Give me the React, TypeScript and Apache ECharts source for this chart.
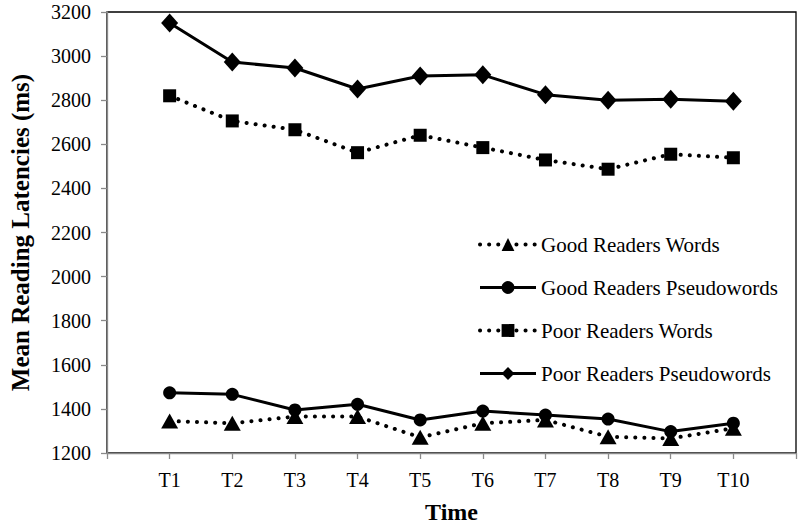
import React, { useEffect, useRef } from 'react';
import * as echarts from 'echarts';

const timePoints = ['T1', 'T2', 'T3', 'T4', 'T5', 'T6', 'T7', 'T8', 'T9', 'T10'];
const goodReadersWords = [1345, 1335, 1365, 1365, 1271, 1335, 1350, 1274, 1266, 1312];
const goodReadersPseudowords = [1473, 1466, 1395, 1421, 1350, 1390, 1372, 1354, 1297, 1335];
const poorReadersWords = [2820, 2706, 2666, 2562, 2641, 2585, 2529, 2487, 2555, 2539];
const poorReadersPseudowords = [3150, 2973, 2946, 2851, 2910, 2915, 2825, 2800, 2804, 2795];
const seriesNames = [
  'Good Readers Words',
  'Good Readers Pseudowords',
  'Poor Readers Words',
  'Poor Readers Pseudowords',
];

const FONT = "'Liberation Serif', 'Times New Roman', serif";
const AXIS_GRAY = '#8a8a8a';

export default function App() {
  const ref = useRef<HTMLDivElement>(null);
  useEffect(() => {
    if (!ref.current) return;
    const chart = echarts.init(ref.current, undefined, { renderer: 'svg' });
    const axisData = ['', ...timePoints, ''];
    const pad = (arr: number[]) => [null, ...arr];
    const dotted = { color: '#000', width: 4, type: [0.1, 9] as any, cap: 'round' as any };
    const solid = { color: '#000', width: 3, type: 'solid' as any };
    const styles = [dotted, solid, dotted, solid];
    const mk = (name: string, data: number[], symbol: string, size: any, lineStyle: any) => ({
      name,
      type: 'line',
      data: pad(data),
      symbol,
      symbolSize: size,
      showSymbol: true,
      lineStyle,
      itemStyle: { color: '#000', borderWidth: 0 },
      emphasis: { disabled: true },
      z: 3,
    });
    chart.setOption({
      animation: false,
      backgroundColor: '#fff',
      textStyle: { fontFamily: FONT, color: '#000' },
      grid: {
        left: 104,
        right: 2,
        top: 12,
        bottom: 76,
        show: true,
        borderColor: '#000',
        borderWidth: 1.3,
        containLabel: false,
      },
      legend: {
        orient: 'vertical',
        left: 473,
        top: 229,
        itemWidth: 56,
        itemHeight: 16,
        itemGap: 22,
        data: seriesNames.map((n, i) => ({
          name: n,
          lineStyle: { ...styles[i] },
        })),
        textStyle: { fontFamily: FONT, fontSize: 21, color: '#000' },
        selectedMode: false,
      },
      xAxis: {
        type: 'category',
        data: axisData,
        boundaryGap: false,
        name: 'Time',
        nameLocation: 'middle',
        nameGap: 47,
        nameTextStyle: { fontFamily: FONT, fontSize: 24, fontWeight: 'bold', color: '#000' },
        axisLine: { lineStyle: { color: AXIS_GRAY, width: 1.3 } },
        axisTick: { show: true, length: 6, lineStyle: { color: AXIS_GRAY, width: 1.3 }, interval: 0 },
        axisLabel: { fontFamily: FONT, fontSize: 20, color: '#000', margin: 17, interval: 0 },
        splitLine: { show: false },
      },
      yAxis: {
        type: 'value',
        min: 1200,
        max: 3200,
        interval: 200,
        name: 'Mean Reading Latencies (ms)',
        nameLocation: 'middle',
        nameGap: 74,
        nameTextStyle: { fontFamily: FONT, fontSize: 25, fontWeight: 'bold', color: '#000' },
        axisLine: { show: true, lineStyle: { color: AXIS_GRAY, width: 1.3 } },
        axisTick: { show: true, length: 6, lineStyle: { color: AXIS_GRAY, width: 1.3 } },
        axisLabel: {
          fontFamily: FONT,
          fontSize: 20,
          color: '#000',
          margin: 16,
          formatter: (v: number) => String(v),
        },
        splitLine: { show: false },
      },
      series: [
        mk(seriesNames[0], goodReadersWords, 'triangle', [17, 15], dotted),
        mk(seriesNames[1], goodReadersPseudowords, 'circle', 13, solid),
        mk(seriesNames[2], poorReadersWords, 'rect', 13, dotted),
        mk(seriesNames[3], poorReadersPseudowords, 'diamond', [17, 19], solid),
      ],
    });
    return () => chart.dispose();
  }, []);
  return (
    <div
      ref={ref}
      style={{ position: 'fixed', left: 0, top: 0, width: 799, height: 529 }}
    />
  );
}
